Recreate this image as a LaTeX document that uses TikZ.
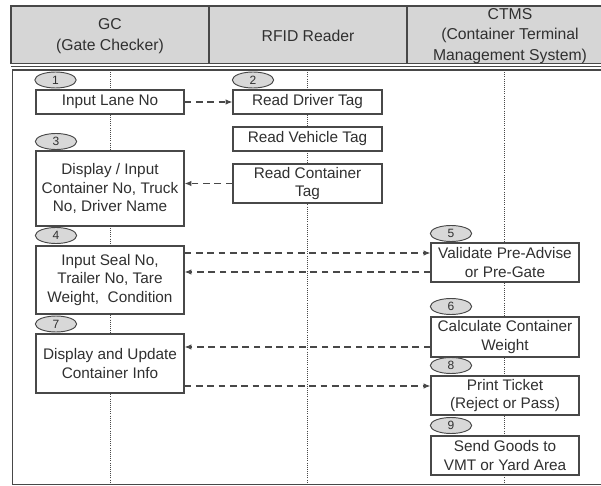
\documentclass[tikz,border=0pt]{standalone}
\usepackage{fontspec}
\setmainfont{Liberation Sans}
\usetikzlibrary{shapes.geometric,arrows.meta}
\definecolor{hdrgray}{HTML}{D6D6D6}
\definecolor{ovalgray}{HTML}{D8D8D8}
\definecolor{linec}{HTML}{484848}
\definecolor{textc}{HTML}{303030}
\tikzset{
  stepbox/.style={draw=linec, line width=0.9pt, fill=white, inner sep=0pt, align=center,
    text=textc, font=\fontsize{11.5}{14}\selectfont, minimum width=111pt},
  numoval/.style={ellipse, draw=linec, line width=0.7pt, fill=ovalgray, inner sep=0pt,
    minimum width=31pt, minimum height=12pt, text=textc, font=\fontsize{9}{9}\selectfont},
  hdrtext/.style={align=center, text=textc, font=\fontsize{11.8}{15.2}\selectfont},
  lifeline/.style={densely dotted, draw=linec, line width=0.6pt},
  flow/.style={dashed, dash pattern=on 5pt off 3.5pt, draw=linec, line width=0.8pt,
    -{Latex[length=5pt,width=4pt]}},
  frame/.style={draw=linec, line width=1.1pt}
}
\begin{document}
\begin{tikzpicture}[x=0.75pt,y=-0.75pt]
\useasboundingbox (0,0) rectangle (601,486);
\clip (0,0) rectangle (601,486);
% header
\draw[frame, fill=hdrgray] (11,6) rectangle (615,63.5);
\draw[frame] (209,6) -- (209,63.5);
\draw[frame] (407,6) -- (407,63.5);
\draw[draw=linec, line width=0.7pt] (11,66.5) -- (615,66.5);
\node[hdrtext] (hgc) at (110,36) {GC\\(Gate Checker)};
\node[hdrtext] (hrfid) at (308,36) {RFID Reader};
\node[hdrtext] (hctms) at (510,36) {CTMS\\(Container Terminal\\Management System)};
% body frame
\draw[frame] (12.7,70) rectangle (615,484.5);
% lifelines
\coordinate (gcTop) at (110,70);   \coordinate (gcBot) at (110,484);
\coordinate (rfTop) at (307,70);   \coordinate (rfBot) at (307,484);
\coordinate (ctTop) at (504,70);   \coordinate (ctBot) at (504,484);
\draw[lifeline] (gcTop) -- (gcBot);
\draw[lifeline] (rfTop) -- (rfBot);
\draw[lifeline] (ctTop) -- (ctBot);
% boxes
\node[stepbox, minimum height=18pt] (b1) at (110,102) {Input Lane No};
\node[stepbox, minimum height=18pt, minimum width=111.75pt] (b2) at (307.5,102) {Read Driver Tag};
\node[stepbox, minimum height=18pt, minimum width=111.75pt] (bv) at (307.5,139) {Read Vehicle Tag};
\node[stepbox, minimum height=29.25pt, minimum width=111.75pt] (bc) at (307.5,183.5) {Read Container\\Tag};
\node[stepbox, minimum height=56.25pt] (b3) at (110,188.5) {Display / Input\\Container No, Truck\\No, Driver Name};
\node[stepbox, minimum height=51pt] (b4) at (110,280) {Input Seal No,\\Trailer No, Tare\\Weight,\ \ Condition};
\node[stepbox, minimum height=44.25pt] (b7) at (110,363.5) {Display and Update\\Container Info};
\node[stepbox, minimum height=29.25pt] (b5) at (505,262.5) {Validate Pre-Advise\\or Pre-Gate};
\node[stepbox, minimum height=30pt] (b6) at (505,337) {Calculate Container\\Weight};
\node[stepbox, minimum height=29.25pt] (b8) at (505,395.5) {Print Ticket\\(Reject or Pass)};
\node[stepbox, minimum height=29.25pt] (b9) at (505,455.5) {Send Goods to\\VMT or Yard Area};
% numbers
\node[numoval] (n1) at (55.5,80) {1};
\node[numoval] (n2) at (253,80) {2};
\node[numoval] (n3) at (56,141.5) {3};
\node[numoval] (n4) at (56,235.5) {4};
\node[numoval] (n7) at (56,324) {7};
\node[numoval] (n5) at (451,233.5) {5};
\node[numoval] (n6) at (451,306.5) {6};
\node[numoval] (n8) at (451,365.5) {8};
\node[numoval] (n9) at (451,425.5) {9};
% messages
\draw[flow] (b1.east) -- (b2.west);
\draw[flow] (bc.west) -- (b3.east |- bc.west);
\draw[flow] (b4.east |- 0,253) -- (b5.west |- 0,253);
\draw[flow] (b5.west |- 0,272) -- (b4.east |- 0,272);
\draw[flow] (b6.west |- 0,347) -- (b7.east |- 0,347);
\draw[flow] (b7.east |- 0,386) -- (b8.west |- 0,386);
\end{tikzpicture}
\end{document}
